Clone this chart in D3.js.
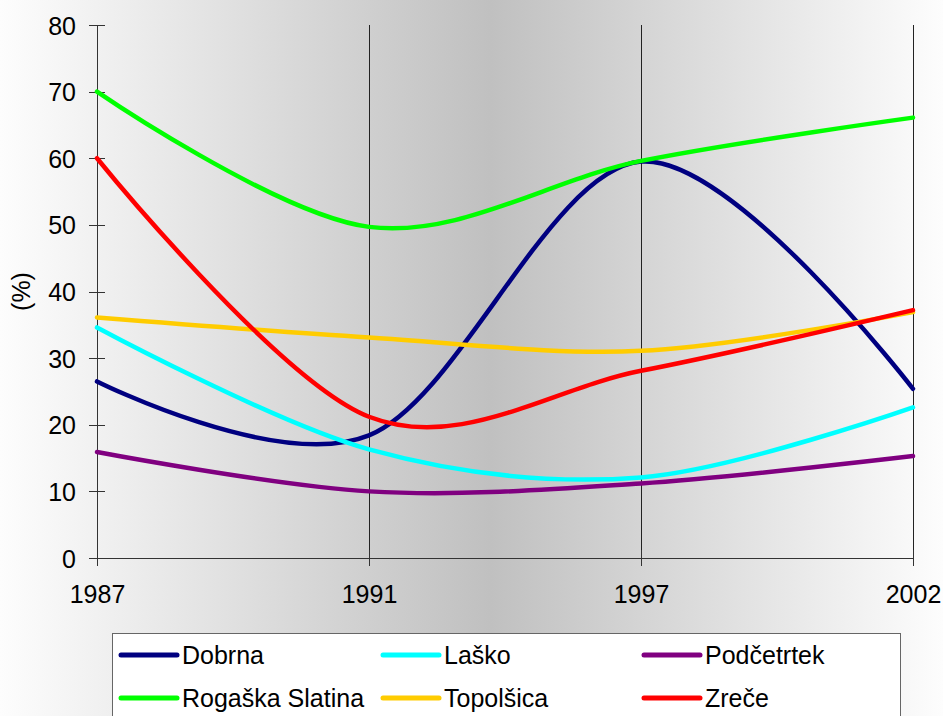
<!DOCTYPE html>
<html>
<head>
<meta charset="utf-8">
<script src="https://cdn.jsdelivr.net/npm/d3@7"></script>
<style>
  body { margin: 0; }
  svg text { font-family: "Liberation Sans", Arial, sans-serif; fill: #000; }
</style>
</head>
<body>
<svg id="chart"></svg>
<script>
const years = ["1987", "1991", "1997", "2002"];
const seriesNames = ["Dobrna", "Laško", "Podčetrtek", "Rogaška Slatina", "Topolšica", "Zreče"];
const dobrna = [26.5, 18.4, 59.5, 25.4];
const lasko = [34.6, 16.3, 12.1, 22.6];
const podcetrtek = [15.9, 10.0, 11.2, 15.3];
const rogaska = [70.0, 49.7, 59.6, 66.1];
const topolsica = [36.1, 33.1, 31.1, 36.9];
const zrece = [60.0, 21.2, 28.1, 37.2];
const seriesValues = [dobrna, lasko, podcetrtek, rogaska, topolsica, zrece];
const seriesColors = ["#000080", "#00ffff", "#800080", "#00ff00", "#ffcc00", "#ff0000"];
const yTicks = [0, 10, 20, 30, 40, 50, 60, 70, 80];

const width = 943;
const height = 716;
const margin = { top: 25, right: 30, bottom: 158, left: 97 };

const svg = d3.select("#chart").attr("width", width).attr("height", height);

// background gradient: light at the edges, grey in the middle
const grad = svg.append("defs").append("linearGradient")
  .attr("id", "bg").attr("x1", "0%").attr("x2", "100%").attr("y1", "0%").attr("y2", "0%");
grad.append("stop").attr("offset", "0%").attr("stop-color", "#fdfdfd");
grad.append("stop").attr("offset", "52%").attr("stop-color", "#c0c0c0");
grad.append("stop").attr("offset", "100%").attr("stop-color", "#fdfdfd");
svg.append("rect").attr("width", width).attr("height", height).attr("fill", "url(#bg)");

const xScale = d3.scalePoint().domain(years).range([margin.left, width - margin.right]);
const yScale = d3.scaleLinear().domain([0, 80]).range([height - margin.bottom, margin.top]);

// vertical gridlines
svg.append("g")
  .attr("shape-rendering", "crispEdges")
  .selectAll("line")
  .data(years.slice(1))
  .enter()
  .append("line")
  .attr("x1", (d) => xScale(d))
  .attr("x2", (d) => xScale(d))
  .attr("y1", yScale(80))
  .attr("y2", yScale(0))
  .attr("stroke", "#222")
  .attr("stroke-width", 1);

// y-axis
const yAxis = svg.append("g")
  .attr("transform", `translate(${margin.left},0)`)
  .attr("shape-rendering", "crispEdges")
  .call(d3.axisLeft(yScale).tickValues(yTicks).tickSize(8).tickPadding(13).tickSizeOuter(0));
yAxis.select(".domain").attr("stroke", "#333");
yAxis.selectAll(".tick line").attr("x1", 8).attr("x2", -8).attr("stroke", "#333");
yAxis.selectAll("text").style("font-size", "25px").attr("dy", "0.36em");

// x-axis
const xAxis = svg.append("g")
  .attr("transform", `translate(0,${height - margin.bottom})`)
  .attr("shape-rendering", "crispEdges")
  .call(d3.axisBottom(xScale).tickSize(8).tickPadding(19).tickSizeOuter(0));
xAxis.select(".domain").attr("stroke", "#333");
xAxis.selectAll(".tick line").attr("y1", -8).attr("y2", 8).attr("stroke", "#333");
xAxis.selectAll("text").style("font-size", "25px");

// y-axis label
svg.append("text")
  .attr("transform", `translate(30,${(margin.top + height - margin.bottom) / 2}) rotate(-90)`)
  .attr("text-anchor", "middle")
  .style("font-size", "25px")
  .text("(%)");

// lines, smoothed like the original spreadsheet chart
const line = d3.line()
  .x((d, i) => xScale(years[i]))
  .y((d) => yScale(d))
  .curve(d3.curveCardinal.tension(0));

svg.append("g")
  .selectAll("path")
  .data(seriesValues)
  .enter()
  .append("path")
  .attr("d", line)
  .attr("fill", "none")
  .attr("stroke", (d, i) => seriesColors[i])
  .attr("stroke-width", 4.5)
  .attr("stroke-linejoin", "round")
  .attr("stroke-linecap", "round");

// legend
const legend = svg.append("g").attr("transform", "translate(112,633)");
legend.append("rect")
  .attr("width", 788)
  .attr("height", 110)
  .attr("fill", "#fff")
  .attr("stroke", "#666")
  .attr("stroke-width", 1)
  .attr("shape-rendering", "crispEdges");

const colX = [9, 271, 532];
const rowY = [22, 65];
const item = legend.selectAll(".item")
  .data(seriesNames)
  .enter()
  .append("g")
  .attr("class", "item")
  .attr("transform", (d, i) => `translate(${colX[i % 3]},${rowY[Math.floor(i / 3)]})`);
item.append("line")
  .attr("x1", 0).attr("x2", 56)
  .attr("stroke", (d, i) => seriesColors[i])
  .attr("stroke-width", 5)
  .attr("stroke-linecap", "round");
item.append("text")
  .attr("x", 61)
  .attr("dy", "0.36em")
  .style("font-size", "25px")
  .text((d) => d);
</script>
</body>
</html>
